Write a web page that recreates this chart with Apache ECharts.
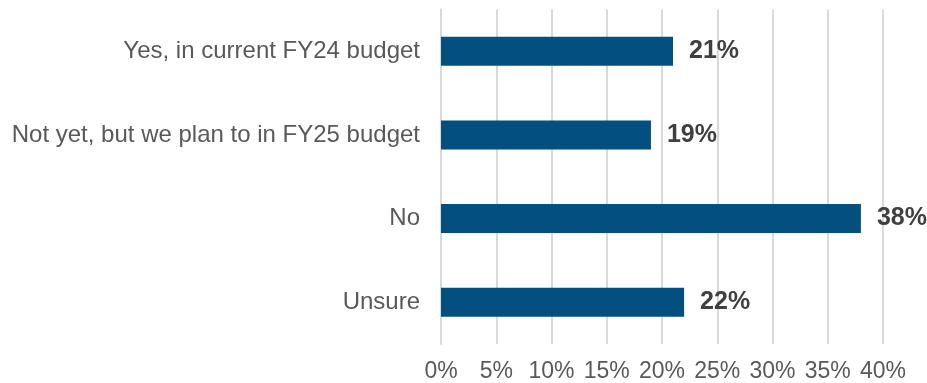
<!DOCTYPE html>
<html>
<head>
<meta charset="utf-8">
<script src="https://cdn.jsdelivr.net/npm/echarts@6/dist/echarts.min.js"></script>
<style>
  html, body { margin: 0; padding: 0; background: #ffffff; }
  #chart { width: 927px; height: 383px; }
</style>
</head>
<body>
<div id="chart"></div>
<script>
// Survey answers, listed top to bottom
const categories = [
  'Yes, in current FY24 budget',
  'Not yet, but we plan to in FY25 budget',
  'No',
  'Unsure'
];
// Share of respondents (%)
const shares = [21, 19, 38, 22];
// Value axis range and step (%)
const axisMin = 0;
const axisMax = 40;
const axisStep = 5;

const chart = echarts.init(document.getElementById('chart'), null, { renderer: 'canvas' });

chart.setOption({
  animation: false,
  backgroundColor: '#ffffff',
  grid: { left: 441, right: 44, top: 9.5, bottom: 37.5, containLabel: false },
  xAxis: {
    type: 'value',
    min: axisMin,
    max: axisMax,
    interval: axisStep,
    axisLine: { show: false },
    axisTick: { show: false },
    splitLine: { show: true, lineStyle: { color: '#d9d9d9', width: 2 } },
    axisLabel: {
      margin: 16,
      formatter: '{value}%',
      color: '#595959',
      fontFamily: 'Liberation Sans, Arial, sans-serif',
      fontSize: 23
    }
  },
  yAxis: {
    type: 'category',
    data: categories,
    inverse: true,
    axisLine: { show: true, lineStyle: { color: '#d9d9d9', width: 2 } },
    axisTick: { show: false },
    axisLabel: {
      margin: 21,
      color: '#595959',
      fontFamily: 'Liberation Sans, Arial, sans-serif',
      fontSize: 24
    }
  },
  series: [{
    type: 'bar',
    data: shares,
    barWidth: 29,
    itemStyle: { color: '#034f7f' },
    label: {
      show: true,
      position: 'right',
      distance: 16,
      formatter: '{c}%',
      color: '#404040',
      fontWeight: 'bold',
      fontFamily: 'Liberation Sans, Arial, sans-serif',
      fontSize: 25
    }
  }]
});
</script>
</body>
</html>
